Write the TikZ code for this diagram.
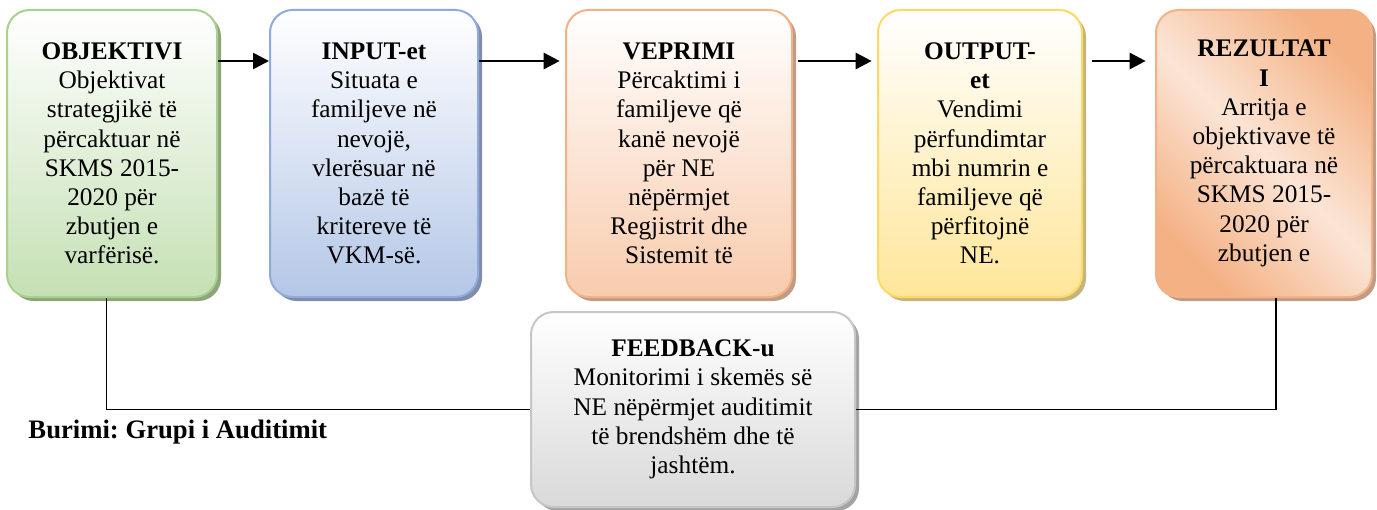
\documentclass[tikz,border=0pt]{standalone}
\usepackage{fontspec}
\setmainfont{Liberation Serif}
\usetikzlibrary{arrows.meta,shadows}

\definecolor{objline}{HTML}{A9D18E}
\definecolor{objfill}{HTML}{C5E0B4}
\definecolor{objshade}{HTML}{8FA47A}
\definecolor{inpline}{HTML}{8FAADC}
\definecolor{inpfill}{HTML}{B4C7E7}
\definecolor{inpshade}{HTML}{7F8DA8}
\definecolor{vepline}{HTML}{F4B183}
\definecolor{vepfill}{HTML}{F8CBAD}
\definecolor{vepshade}{HTML}{BF9C86}
\definecolor{outpline}{HTML}{FFD966}
\definecolor{outpfill}{HTML}{FFE699}
\definecolor{outpshade}{HTML}{C4B47E}
\definecolor{rezorange}{HTML}{F4B183}
\definecolor{rezlight}{HTML}{FBE5D6}
\definecolor{fbline}{HTML}{C6C6C6}
\definecolor{fbfill}{HTML}{D9D9D9}
\definecolor{fbshade}{HTML}{A3A3A3}

\tikzset{every picture/.style={line width=0.75pt}}
\tikzset{
	stagebox/.style n args={3}{draw=#1, line width=1.5pt, rounded corners=17pt, top color=white, bottom color=#2,
		general shadow={shadow xshift=3pt, shadow yshift=-3pt, fill=#3}, align=center, inner sep=0pt,
		minimum height=215.25pt, font=\fontsize{19}{21.9}\selectfont},
	flowarrow/.style={-{Triangle[length=12pt,width=12pt]}, line width=2pt, shorten <=4pt, shorten >=4pt},
	backline/.style={line width=1.1pt}
}

\begin{document}
\frenchspacing
\begin{tikzpicture}[x=0.75pt,y=0.75pt,yscale=-1,xscale=1]
	\path [fill=white] (0,0) rectangle (1377,510);
	\useasboundingbox (0,0) rectangle (1377,510);
	
	% Box: objektivi
	\node [stagebox={objline}{objfill}{objshade}, minimum width=157.5pt] (obj) at (112,153.5)
		{\textbf{OBJEKTIVI}\\Objektivat\\strategjikë të\\përcaktuar në\\SKMS 2015-\\2020 për\\zbutjen e\\varfërisë.};
	% Box: input
	\node [stagebox={inpline}{inpfill}{inpshade}, minimum width=156pt] (inp) at (374,153.5)
		{\textbf{INPUT-et}\\Situata e\\familjeve në\\nevojë,\\vlerësuar në\\bazë të\\kritereve të\\VKM-së.};
	% Box: veprimi
	\node [stagebox={vepline}{vepfill}{vepshade}, minimum width=169.5pt] (vep) at (679,153.5)
		{\textbf{VEPRIMI}\\Përcaktimi i\\familjeve që\\kanë nevojë\\për NE\\nëpërmjet\\Regjistrit dhe\\Sistemit të};
	% Box: output
	\node [stagebox={outpline}{outpfill}{outpshade}, minimum width=153pt] (outp) at (980,153.5)
		{\textbf{OUTPUT-}\\\textbf{et}\\Vendimi\\përfundimtar\\mbi numrin e\\familjeve që\\përfitojnë\\NE.};
	% Box: rezultati
	\node [stagebox={rezorange}{rezorange}{vepshade}, left color=rezorange, right color=rezorange,
		middle color=rezlight, shading angle=135, minimum width=162pt] (rez) at (1264,153.5)
		{\textbf{REZULTAT}\\\textbf{I}\\Arritja e\\objektivave të\\përcaktuara në\\SKMS 2015-\\2020 për\\zbutjen e};
	% Box: feedback
	\node [stagebox={fbline}{fbfill}{fbshade}, minimum width=243pt, minimum height=146.25pt] (fb) at (693,409.5)
		{\textbf{FEEDBACK-u}\\Monitorimi i skemës së\\NE nëpërmjet auditimit\\të brendshëm dhe të\\jashtëm.};
	
	% Arrows
	\coordinate (arow) at (0,61);
	\draw [flowarrow, shorten <=0pt, shorten >=0pt] (obj.east |- arow) -- (inp.west |- arow);
	\draw [flowarrow, shorten <=0pt] (inp.east |- arow) -- (vep.west |- arow);
	\draw [flowarrow] (vep.east |- arow) -- (outp.west |- arow);
	\draw [flowarrow, shorten <=7pt, shorten >=7pt] (outp.east |- arow) -- (rez.west |- arow);
	
	% Feedback lines
	\draw [backline] ([xshift=-4pt]obj.south) |- (fb.west);
	\draw [backline] ([xshift=9pt]rez.south) |- (fb.east);
	
	% Text Node
	\node [anchor=base west, inner sep=0pt, font=\bfseries\fontsize{20}{24}\selectfont] (src) at (28,438)
		{Burimi: Grupi i Auditimit};
	
\end{tikzpicture}
\end{document}
